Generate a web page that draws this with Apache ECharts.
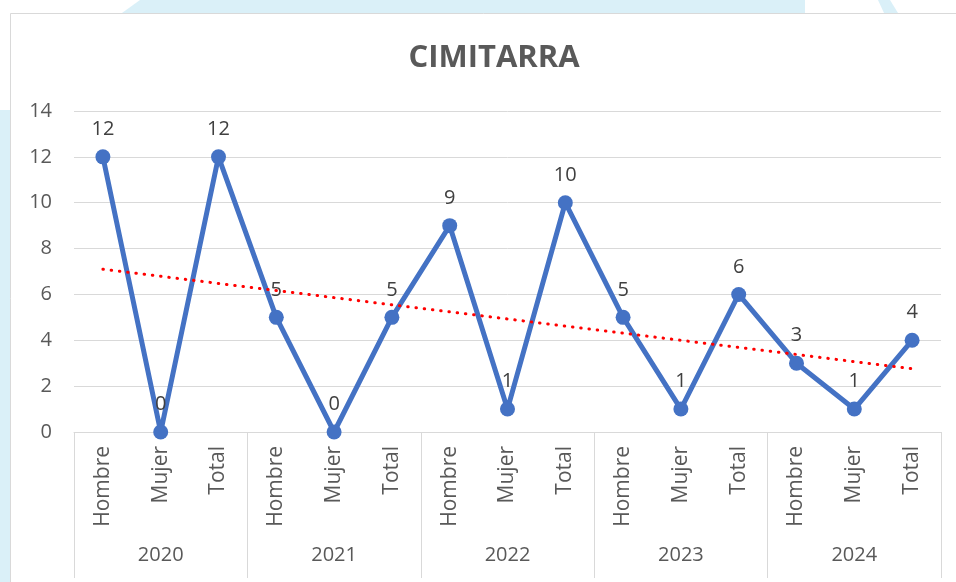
<!DOCTYPE html>
<html>
<head>
<meta charset="utf-8">
<script src="https://cdn.jsdelivr.net/npm/echarts@6/dist/echarts.min.js"></script>
<style>
    html, body { margin: 0; padding: 0; background: #fff; }
    #chart { width: 956px; height: 582px; }
</style>
</head>
<body>
<div id="chart"></div>
<script>
const years = ['2020', '2021', '2022', '2023', '2024'];
const groups = ['Hombre', 'Mujer', 'Total'];
const values = [12, 0, 12, 5, 0, 5, 9, 1, 10, 5, 1, 6, 3, 1, 4];
// linear trend line, start and end values
const trend = [7.1, 2.76];
const yTicks = { min: 0, max: 14, interval: 2 };

const categories = years.flatMap(() => groups);

const font = '"Open Sans", sans-serif';
const textColor = '#595959';
const gridColor = '#d9d9d9';
const cyan = '#daf0f8';

const myChart = echarts.init(document.getElementById('chart'));

const option = {
    animation: false,
    backgroundColor: '#fff',
    graphic: [
        // slide background peeking round the chart
        { type: 'polygon', z: -10, shape: { points: [[140, 0], [805, 0], [805, 13], [122, 13]] }, style: { fill: cyan } },
        { type: 'polygon', z: -10, shape: { points: [[878, 0], [890, 0], [898, 13], [884, 13]] }, style: { fill: cyan } },
        { type: 'rect', z: -10, shape: { x: 0, y: 110, width: 10, height: 472 }, style: { fill: cyan } },
        // chart frame
        {
            type: 'rect', z: -5,
            shape: { x: 10.5, y: 13.5, width: 960, height: 600 },
            style: { fill: '#fff', stroke: gridColor, lineWidth: 1 },
        },
    ],
    title: {
        text: 'CIMITARRA',
        left: 489,
        top: 38,
        textAlign: 'center',
        textStyle: {
            fontFamily: font,
            fontSize: 31,
            fontWeight: 'bold',
            color: textColor,
        },
    },
    grid: { left: 74, right: 15, top: 111, bottom: 150 },
    xAxis: [
        {
            type: 'category',
            data: categories,
            boundaryGap: true,
            axisLine: { lineStyle: { color: gridColor, width: 1 } },
            axisTick: { show: false },
            axisLabel: {
                interval: 0,
                rotate: 90,
                margin: 14,
                fontFamily: font,
                fontSize: 21,
                color: textColor,
            },
        },
        {
            type: 'category',
            data: years,
            position: 'bottom',
            boundaryGap: true,
            axisLine: { show: false },
            axisTick: {
                show: true,
                interval: 0,
                length: 146,
                lineStyle: { color: gridColor, width: 1 },
            },
            axisLabel: {
                interval: 0,
                margin: 113,
                fontFamily: font,
                fontSize: 20,
                color: textColor,
            },
        },
    ],
    yAxis: {
        type: 'value',
        min: yTicks.min,
        max: yTicks.max,
        interval: yTicks.interval,
        axisLine: { show: false },
        axisTick: { show: false },
        axisLabel: {
            margin: 22,
            fontFamily: font,
            fontSize: 20,
            color: textColor,
        },
        splitLine: { lineStyle: { color: gridColor, width: 1 } },
    },
    series: [
        {
            type: 'line',
            data: values,
            xAxisIndex: 0,
            symbol: 'circle',
            symbolSize: 15,
            lineStyle: { color: '#4472c4', width: 5 },
            itemStyle: { color: '#4472c4' },
            label: {
                show: true,
                position: 'top',
                distance: 10,
                fontFamily: font,
                fontSize: 20,
                color: '#404040',
            },
            markLine: {
                silent: true,
                symbol: 'none',
                label: { show: false },
                lineStyle: {
                    color: '#ff0000',
                    width: 3,
                    type: [0.5, 7.8],
                    cap: 'round',
                },
                data: [[
                    { coord: [0, trend[0]] },
                    { coord: [categories.length - 1, trend[1]] },
                ]],
            },
            z: 3,
        },
    ],
};

myChart.setOption(option);
</script>
</body>
</html>
